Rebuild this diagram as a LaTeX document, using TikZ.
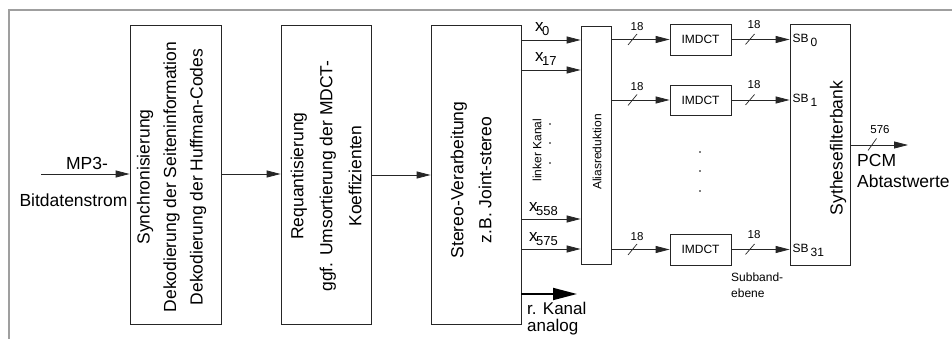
\documentclass[tikz,border=0pt]{standalone}
\usepackage{fontspec}
\setmainfont{Liberation Sans}
\usetikzlibrary{arrows.meta}
\newcommand{\xsub}[1]{x\kern-1.5pt\raisebox{-4pt}{\fontsize{13}{14}\selectfont #1}}
\begin{document}
\begin{tikzpicture}[x=1pt,y=-1pt,
  box/.style={draw=black!85, line width=0.8pt, inner sep=0pt, rectangle},
  arr/.style={draw=black!85, line width=0.8pt, -{Triangle[length=14pt,width=7pt]}},
  bigarr/.style={draw=black, line width=1.8pt, -{Triangle[length=24pt,width=12pt]}},
  slash/.style={draw=black!85, line width=0.7pt},
  big/.style={font=\fontsize{17.5}{20}\selectfont, inner sep=0pt},
  small/.style={font=\fontsize{12}{14}\selectfont, inner sep=0pt},
  tiny/.style={font=\fontsize{11.5}{13}\selectfont, inner sep=0pt},
  xlab/.style={font=\fontsize{17}{19}\selectfont, inner sep=0pt, anchor=west},
  dotm/.style={circle, fill=black, inner sep=0pt, minimum size=1.6pt}]
\useasboundingbox (0,0) rectangle (952,339);
% frame
\draw[gray!75, line width=2pt] (9,339) -- (9,10) -- (952,10);
% boxes
\node[box, minimum width=91pt, minimum height=299pt] (b1) at (175.5,174.5) {};
\node[box, minimum width=90pt, minimum height=299pt] (b2) at (326,174.5) {};
\node[box, minimum width=90pt, minimum height=299pt] (b3) at (476,174.5) {};
\node[box, minimum width=30pt, minimum height=238pt] (al) at (596,145) {};
\node[box, minimum width=61pt, minimum height=31pt] (i1) at (700.5,39.5) {};
\node[box, minimum width=61pt, minimum height=30pt] (i2) at (700.5,100) {};
\node[box, minimum width=61pt, minimum height=31pt] (i3) at (700.5,249.5) {};
\node[box, minimum width=60pt, minimum height=241pt] (sf) at (820,144.5) {};
% box texts
\node[big, rotate=90, align=center, font=\fontsize{17.5}{26.5}\selectfont] (t1) at (171.5,177)
  {Synchronisierung\\Dekodierung der Seiteninformation\\Dekodierung der Huffman-Codes};
\node[big, rotate=90, align=center, font=\fontsize{17.5}{29}\selectfont] (t2) at (326,176)
  {Requantisierung\\ggf. Umsortierung der MDCT-\\Koeffizienten};
\node[big, rotate=90, align=center, font=\fontsize{17.5}{28}\selectfont] (t3) at (471,180)
  {Stereo-Verarbeitung\\z.B. Joint-stereo};
\node[small, rotate=90] (tal) at (597,152) {Aliasreduktion};
\node[big, rotate=90] (tsf) at (838,148) {Sythesefilterbank};
\node[small] (ti1) at (i1) {IMDCT};
\node[small] (ti2) at (i2) {IMDCT};
\node[small] (ti3) at (i3) {IMDCT};
% input
\coordinate (in) at (41,174);
\draw[arr] (in) -- (in -| b1.west);
\node[big] (mp3) at (87,163) {MP3-};
\node[big] (bit) at (73.5,200) {Bitdatenstrom};
% between boxes
\draw[arr] (b1.east |- 0,174) -- (b2.west |- 0,174);
\draw[arr] (b2.east |- 0,175) -- (b3.west |- 0,175);
% stereo outputs
\draw[arr] (b3.east |- 0,40) -- (al.west |- 0,40);
\draw[arr] (b3.east |- 0,70) -- (al.west |- 0,70);
\draw[arr] (b3.east |- 0,219) -- (al.west |- 0,219);
\draw[arr] (b3.east |- 0,249) -- (al.west |- 0,249);
\node[xlab] (x0) at (535,29) {\xsub{0}};
\node[xlab] (x17) at (535,59) {\xsub{17}};
\node[xlab] (x558) at (529,209) {\xsub{558}};
\node[xlab] (x575) at (529,239) {\xsub{575}};
\node[small, rotate=90] (lk) at (537,150) {linker Kanal};
\node[dotm] (d1) at (550,124) {};
\node[dotm] (d2) at (550,143) {};
\node[dotm] (d3) at (550,163) {};
% right channel
\coordinate (rk) at (577,294);
\draw[bigarr] (b3.east |- rk) -- (rk);
\node[big, anchor=north west, inner sep=0pt, font=\fontsize{17}{20}\selectfont] (rkt) at (527,302) {r. Kanal};
\node[big, anchor=north west, inner sep=0pt, font=\fontsize{17}{20}\selectfont] (rka) at (527,318.5) {analog};
% alias to IMDCT
\draw[arr] (al.east |- i1) -- (i1.west);
\draw[arr] (al.east |- i2) -- (i2.west);
\draw[arr] (al.east |- i3) -- (i3.west);
\foreach \y/\n in {39.5/a, 100/b, 249.5/c} {
  \draw[slash] (628,\y+5.5) -- (637,\y-5.5);
  \node[tiny] (la\n) at (637,\y-13) {18};
}
\node[dotm] (d4) at (700,152) {};
\node[dotm] (d5) at (700,171) {};
\node[dotm] (d6) at (700,191) {};
% IMDCT to synthesis
\draw[arr] (i1.east) -- (i1.east -| sf.west);
\draw[arr] (i2.east) -- (i2.east -| sf.west);
\draw[arr] (i3.east) -- (i3.east -| sf.west);
\foreach \y/\n in {39.5/a, 100/b, 249.5/c} {
  \draw[slash] (745.5,\y+5) -- (754.5,\y-5.5);
  \node[tiny] (lb\n) at (754,\y-15) {18};
}
\node[small, anchor=west] (sb0) at (792.5,40) {SB\,\raisebox{-4pt}{0}};
\node[small, anchor=west] (sb1) at (792.5,100) {SB\,\raisebox{-4pt}{1}};
\node[small, anchor=west] (sb31) at (792.5,250) {SB\,\raisebox{-4pt}{31}};
\node[small, anchor=west, align=left, font=\fontsize{12}{16}\selectfont] (sub) at (731,285) {Subband-\\ebene};
% output
\coordinate (out) at (908,145);
\draw[arr] (sf.east |- out) -- (out);
\draw[slash] (868,150.5) -- (876.5,138.5);
\node[tiny] (l576) at (880,130) {576};
\node[big, anchor=north west, align=left, font=\fontsize{17.5}{21}\selectfont] (pcm) at (857,154) {PCM\\Abtastwerte};
\end{tikzpicture}
\end{document}
